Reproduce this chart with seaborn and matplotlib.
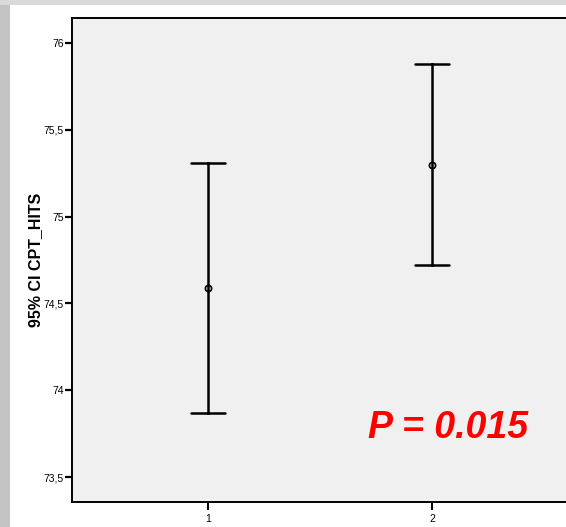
import matplotlib
matplotlib.use("Agg")
import matplotlib.pyplot as plt
import seaborn as sns
import pandas as pd
from matplotlib.patches import Rectangle

groups = ["1", "2"]
means = [74.59, 75.30]
ci_low = [73.87, 74.72]
ci_high = [75.31, 75.88]
yticks = [73.5, 74.0, 74.5, 75.0, 75.5, 76.0]
ytick_labels = ["73,5", "74", "74,5", "75", "75,5", "76"]
ylabel = "95% CI CPT_HITS"
annotation = "P = 0.015"

rows = []
for g, lo, m, hi in zip(groups, ci_low, means, ci_high):
    for v in (lo, m, hi):
        rows.append({"group": g, "value": v})
df = pd.DataFrame(rows)

sns.set_style("white")
plt.rcParams['font.family'] = ['Liberation Sans', 'DejaVu Sans']
plt.rcParams['text.color'] = 'black'
plt.rcParams['axes.labelcolor'] = 'black'
plt.rcParams['xtick.color'] = 'black'
plt.rcParams['ytick.color'] = 'black'

fig = plt.figure(figsize=(5.66, 5.27), dpi=100)
fig.patch.set_facecolor("white")
# gray frame strips
fig.patches.append(Rectangle((0, 0), 10/566, 1, transform=fig.transFigure,
                             facecolor="#c4c4c4", edgecolor="none", zorder=0))
fig.patches.append(Rectangle((0, 1 - 5/527), 1, 5/527, transform=fig.transFigure,
                             facecolor="#dadada", edgecolor="none", zorder=0))

ax = fig.add_axes([72/566, 25/527, 496/566, 484/527])
ax.set_facecolor("#f0f0f0")

sns.pointplot(data=df, x="group", y="value", order=groups,
              estimator="median",
              errorbar=lambda x: (x.min(), x.max()),
              capsize=0.156, color="black",
              linestyle="none", marker="o", markersize=4.5,
              markerfacecolor="none", markeredgecolor="black",
              markeredgewidth=1.2,
              err_kws={"linewidth": 1.8}, ax=ax)

ax.set_xlim(-0.607, 1.607)
ax.set_ylim(73.356, 76.144)
ax.set_yticks(yticks)
ax.set_yticklabels(ytick_labels)
ax.set_xlabel("")
ax.set_ylabel(ylabel, fontsize=11.5, fontweight="bold", labelpad=0, color="black")
ax.tick_params(axis="y", direction="out", length=5, width=1.6, labelsize=7.5, pad=1,
               left=True, colors="black")
ax.tick_params(axis="x", direction="out", length=6, width=1.4, labelsize=7.5, pad=3,
               bottom=True, colors="black")
for s in ax.spines.values():
    s.set_linewidth(1.4)
    s.set_color("black")

fig.text(448/566, 1 - 428/527, annotation, ha="center", va="center",
         fontsize=27, fontweight="bold", style="italic", color="#ff0000")

fig.savefig("out.png", dpi=100)
